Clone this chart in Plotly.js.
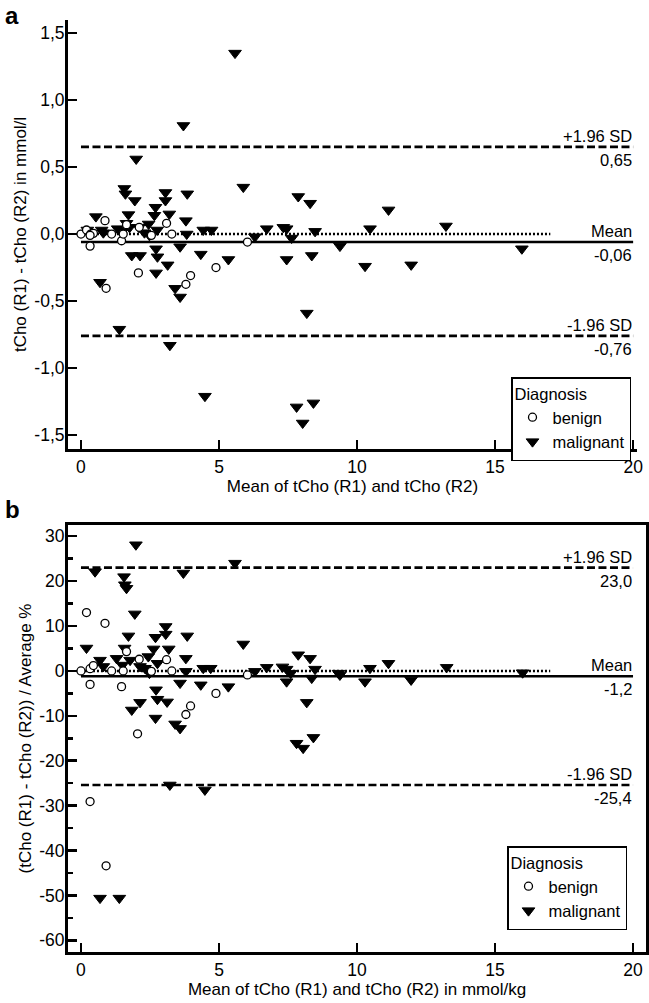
<!DOCTYPE html>
<html>
<head>
<meta charset="utf-8">
<script src="https://cdn.plot.ly/plotly-3.0.1.min.js"></script>
<style>html,body{margin:0;padding:0;background:#fff;}#chart{width:649px;height:1003px;}</style>
</head>
<body>
<div id="chart"></div>
<script>
// ---------- Panel a: absolute difference (mmol/l) ----------
const benignA_x = [0.0, 0.2, 0.35, 0.45, 0.33, 0.87, 0.91, 1.11, 1.47, 1.53, 1.65, 2.08, 2.11, 2.55, 3.1, 3.29, 3.8, 3.97, 4.89, 6.03, 0.33];
const benignA_y = [0.0, 0.03, 0.0, 0.005, -0.09, 0.10, -0.405, 0.0, -0.05, 0.0, 0.07, -0.29, 0.05, -0.01, 0.08, 0.0, -0.375, -0.31, -0.25, -0.06, -0.01];

const malignantA_x = [5.58, 3.71, 2.0, 5.88, 1.57, 1.61, 1.95, 3.06, 3.06, 3.85, 7.87, 8.3, 2.7, 2.66, 0.54, 1.72, 3.2, 11.14, 3.8, 1.65, 2.45, 13.22, 7.33, 7.45, 6.73, 10.47, 4.43, 4.73, 0.23, 0.75, 1.33, 1.76, 2.1, 2.3, 2.76, 3.83, 8.48, 6.3, 7.63, 9.38, 3.59, 1.84, 2.14, 2.72, 2.77, 4.34, 5.34, 7.45, 8.36, 3.14, 2.72, 0.69, 3.41, 3.59, 8.18, 1.39, 3.22, 4.49, 7.81, 8.42, 8.03, 10.29, 11.96, 15.97, 0.81, 2.48, 1.5];
const malignantA_y = [1.35, 0.81, 0.56, 0.35, 0.34, 0.30, 0.25, 0.31, 0.25, 0.30, 0.28, 0.23, 0.20, 0.14, 0.13, 0.145, 0.15, 0.18, 0.10, 0.08, 0.075, 0.06, 0.05, 0.04, 0.04, 0.04, 0.03, 0.03, 0.03, 0.03, 0.04, 0.05, 0.05, 0.01, 0.03, 0.0, 0.02, -0.02, -0.03, -0.09, -0.095, -0.16, -0.16, -0.11, -0.17, -0.15, -0.19, -0.19, -0.16, -0.23, -0.29, -0.36, -0.405, -0.47, -0.59, -0.71, -0.83, -1.21, -1.29, -1.26, -1.41, -0.24, -0.23, -0.11, 0.01, -0.01, 0.02];

const limitValuesA = [0.65, -0.06, -0.76];
const limitNamesA = ['+1.96 SD', 'Mean', '-1.96 SD'];
const limitTextA = ['0,65', '-0,06', '-0,76'];

// ---------- Panel b: relative difference (%) ----------
const benignB_x = [0.0, 0.2, 0.33, 0.45, 0.33, 0.33, 0.87, 0.91, 1.11, 1.47, 1.53, 1.65, 2.05, 2.11, 2.55, 3.1, 3.29, 3.8, 3.97, 4.89, 6.03];
const benignB_y = [0.0, 13.0, 0.5, 1.2, -3.0, -29.1, 10.6, -43.4, 0.0, -3.5, 0.0, 4.3, -14.0, 2.6, -0.1, 2.5, 0.0, -9.7, -7.8, -5.0, -0.9];

const malignantB_x = [1.99, 0.51, 1.56, 1.59, 1.65, 3.71, 5.58, 1.95, 1.72, 0.2, 3.85, 3.07, 3.07, 2.7, 2.63, 3.18, 1.58, 5.88, 3.8, 0.69, 0.81, 1.29, 1.78, 2.44, 2.77, 2.32, 2.14, 2.48, 4.43, 4.7, 6.3, 6.73, 7.3, 7.45, 7.87, 8.3, 8.48, 3.8, 7.6, 9.33, 3.59, 7.45, 8.36, 4.34, 5.34, 2.72, 2.77, 3.12, 2.14, 1.84, 2.7, 8.18, 3.41, 3.59, 7.81, 8.05, 8.42, 3.22, 4.49, 0.69, 1.39, 11.14, 10.47, 13.25, 9.38, 10.29, 11.96, 16.0, 1.5];
const malignantB_y = [28.1, 22.1, 21.0, 19.2, 18.4, 21.8, 24.0, 12.7, 7.8, 5.1, 7.8, 9.9, 8.2, 7.5, 4.9, 4.9, 5.1, 6.0, 2.8, 2.4, 1.0, 2.8, 2.4, 3.2, 1.7, 0.6, 1.0, -0.5, 0.6, 0.6, -0.1, 0.8, 0.9, 0.4, 3.6, 2.8, 0.4, -0.1, -0.5, -0.5, -2.7, -2.4, -1.6, -3.1, -3.5, -4.2, -6.3, -6.9, -7.0, -8.7, -10.5, -7.0, -11.8, -12.8, -16.1, -17.2, -14.8, -25.4, -26.5, -50.6, -50.6, 1.7, 0.6, 0.8, -0.9, -2.4, -2.0, -0.4, 1.3];

const limitValuesB = [23.0, -1.2, -25.4];
const limitNamesB = ['+1.96 SD', 'Mean', '-1.96 SD'];
const limitTextB = ['23,0', '-1,2', '-25,4'];

// ---------- shared ----------
const limitLineX = [0, 20];
const zeroLineX = [0, 17];
const zeroLineY = [0, 0];
const xTickVals = [0, 5, 10, 15, 20];
const xTickText = ['0', '5', '10', '15', '20'];
const yTickValsA = [-1.5, -1.0, -0.5, 0.0, 0.5, 1.0, 1.5];
const yTickTextA = ['-1,5', '-1,0', '-0,5', '0,0', '0,5', '1,0', '1,5'];
const yTickValsB = [-60, -50, -40, -30, -20, -10, 0, 10, 20, 30];
const yTickTextB = ['-60', '-50', '-40', '-30', '-20', '-10', '0', '10', '20', '30'];

const FONT = 'Liberation Sans, Arial, Helvetica, sans-serif';
const dashStyles = ['8px,3.5px', 'solid', '8px,3.5px'];

function limitTraces(vals, xa, ya) {
  return vals.map((v, i) => ({
    x: limitLineX, y: [v, v], xaxis: xa, yaxis: ya, mode: 'lines',
    line: {color: '#000', width: 2.6, dash: dashStyles[i]},
    showlegend: false, hoverinfo: 'skip'
  }));
}
function zeroTrace(xa, ya) {
  return {x: zeroLineX, y: zeroLineY, xaxis: xa, yaxis: ya, mode: 'lines',
    line: {color: '#000', width: 2.5, dash: '2px,2px'}, showlegend: false, hoverinfo: 'skip'};
}
const triMarker = {symbol: 'triangle-down', size: 11, color: '#000', line: {color: '#000', width: 1}};
const circMarker = {symbol: 'circle', size: 8, color: '#fff', line: {color: '#000', width: 1.3}};

const data = [
  ...limitTraces(limitValuesA, 'x', 'y'), zeroTrace('x', 'y'),
  ...limitTraces(limitValuesB, 'x2', 'y2'), zeroTrace('x2', 'y2'),
  {x: malignantA_x, y: malignantA_y, xaxis: 'x', yaxis: 'y', mode: 'markers', name: 'malignant',
   marker: triMarker, legend: 'legend', legendrank: 2},
  {x: benignA_x, y: benignA_y, xaxis: 'x', yaxis: 'y', mode: 'markers', name: 'benign',
   marker: circMarker, legend: 'legend', legendrank: 1},
  {x: malignantB_x, y: malignantB_y, xaxis: 'x2', yaxis: 'y2', mode: 'markers', name: 'malignant',
   marker: triMarker, legend: 'legend2', legendrank: 2},
  {x: benignB_x, y: benignB_y, xaxis: 'x2', yaxis: 'y2', mode: 'markers', name: 'benign',
   marker: circMarker, legend: 'legend2', legendrank: 1}
];

function limitAnnotations(vals, names, texts, xa, ya) {
  const out = [];
  vals.forEach((v, i) => {
    out.push({x: limitLineX[1], y: v, xref: xa, yref: ya, text: names[i], showarrow: false,
      xanchor: 'right', yanchor: 'bottom', yshift: 0, xshift: 1, font: {size: 16.5}});
    out.push({x: limitLineX[1], y: v, xref: xa, yref: ya, text: texts[i], showarrow: false,
      xanchor: 'right', yanchor: 'top', yshift: -2, xshift: 1, font: {size: 16.5}});
  });
  return out;
}

const W = 649, H = 1003;
const axisCommon = {
  showline: true, linecolor: '#000', linewidth: 3, ticks: 'inside', ticklen: 9, tickwidth: 2.5,
  tickcolor: '#000', showgrid: false, zeroline: false, tickfont: {size: 17.5}, tickmode: 'array'
};
const legendCommon = {
  bordercolor: '#000', borderwidth: 1.5, bgcolor: '#fff', font: {size: 16.5},
  title: {text: 'Diagnosis', font: {size: 16.5}}, xanchor: 'left', yanchor: 'top',
  tracegroupgap: 0, itemwidth: 30, traceorder: 'normal'
};

const layout = {
  width: W, height: H, margin: {l: 0, r: 0, t: 0, b: 0},
  paper_bgcolor: '#fff', plot_bgcolor: '#fff',
  font: {family: FONT, size: 16, color: '#000'},
  showlegend: true,
  xaxis: Object.assign({}, axisCommon, {
    domain: [68 / W, 637 / W], range: [-0.47, 20.14], anchor: 'y',
    tickvals: xTickVals, ticktext: xTickText,
    title: {text: 'Mean of tCho (R1) and tCho (R2)', font: {size: 17}, standoff: 0}
  }),
  yaxis: Object.assign({}, axisCommon, {
    domain: [1 - 449 / H, 1 - 20 / H], range: [-1.604, 1.597], anchor: 'x',
    tickvals: yTickValsA, ticktext: yTickTextA, ticklabelstandoff: -3,
    title: {text: 'tCho (R1) - tCho (R2) in mmol/l', font: {size: 17}, standoff: 4}
  }),
  xaxis2: Object.assign({}, axisCommon, {
    domain: [68 / W, 646 / W], range: [-0.47, 20.47], anchor: 'y2', mirror: true,
    tickvals: xTickVals, ticktext: xTickText,
    title: {text: 'Mean of tCho (R1) and tCho (R2) in mmol/kg', font: {size: 17}, standoff: 1}
  }),
  yaxis2: Object.assign({}, axisCommon, {
    domain: [1 - 952 / H, 1 - 525 / H], range: [-62.6, 32.5], anchor: 'x2', mirror: true,
    tickvals: yTickValsB, ticktext: yTickTextB, ticklabelstandoff: -3,
    minor: {tickmode: 'linear', tick0: 5, dtick: 10, ticks: 'inside', ticklen: 5, tickwidth: 2.5, tickcolor: '#000', showgrid: false},
    title: {text: '(tCho (R1) - tCho (R2)) / Average %', font: {size: 17}, standoff: 4}
  }),
  legend: Object.assign({}, legendCommon, {x: 511 / W, y: 1 - 377 / H}),
  legend2: Object.assign({}, legendCommon, {x: 507 / W, y: 1 - 846 / H}),
  annotations: [
    ...limitAnnotations(limitValuesA, limitNamesA, limitTextA, 'x', 'y'),
    ...limitAnnotations(limitValuesB, limitNamesB, limitTextB, 'x2', 'y2'),
    {x: 3 / W, y: 1 - 0 / H, xref: 'paper', yref: 'paper', text: '<b>a</b>', showarrow: false,
     xanchor: 'left', yanchor: 'top', font: {size: 24}},
    {x: 3 / W, y: 1 - 494 / H, xref: 'paper', yref: 'paper', text: '<b>b</b>', showarrow: false,
     xanchor: 'left', yanchor: 'top', font: {size: 24}}
  ]
};

Plotly.newPlot('chart', data, layout, {staticPlot: true, displayModeBar: false});
</script>
</body>
</html>
